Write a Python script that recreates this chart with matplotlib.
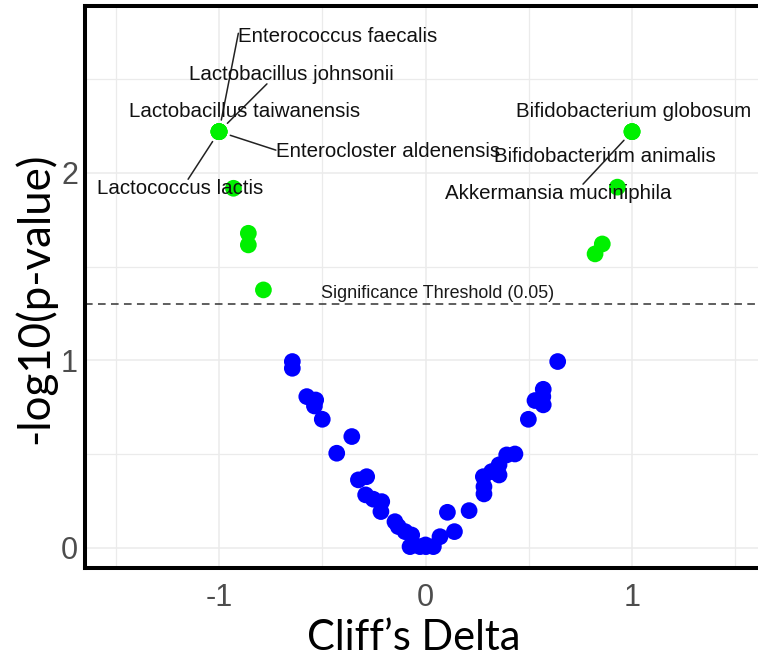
import matplotlib
matplotlib.use("Agg")
import matplotlib.pyplot as plt

# ---------------- data ----------------
# labelled significant taxa
sig_species = ["Enterococcus faecalis", "Lactobacillus johnsonii",
               "Lactobacillus taiwanensis", "Enterocloster aldenensis",
               "Lactococcus lactis", "Bifidobacterium globosum",
               "Bifidobacterium animalis", "Akkermansia muciniphila"]
sig_delta = [-1.0, -1.0, -1.0, -1.0, -1.0, 1.0, 1.0, 1.0]
sig_nlp = [2.22, 2.22, 2.22, 2.22, 2.22, 2.22, 2.22, 2.22]

# other significant (unlabelled) taxa
sig2_delta = [-0.93, -0.858, -0.858, -0.785, 0.929, 0.856, 0.821]
sig2_nlp = [1.918, 1.678, 1.616, 1.376, 1.924, 1.621, 1.568]

# non-significant taxa
ns_delta = [-0.645, -0.645, -0.575, -0.532, -0.538, -0.50, -0.357, -0.43,
            -0.325, -0.285, -0.29, -0.253, -0.212, -0.216, -0.148, -0.132,
            -0.099, -0.067, -0.075, -0.027, 0.002, 0.0, 0.038, 0.07, 0.106,
            0.14, 0.211, 0.283, 0.283, 0.28, 0.32, 0.356, 0.356, 0.393,
            0.433, 0.498, 0.53, 0.57, 0.57, 0.568, 0.64]
ns_nlp = [0.994, 0.958, 0.807, 0.789, 0.757, 0.686, 0.594, 0.505,
          0.363, 0.38, 0.283, 0.26, 0.247, 0.194, 0.14, 0.114,
          0.087, 0.069, 0.007, 0.007, 0.007, 0.016, 0.007, 0.06, 0.19,
          0.087, 0.199, 0.288, 0.327, 0.38, 0.407, 0.389, 0.443, 0.496,
          0.501, 0.686, 0.786, 0.763, 0.846, 0.807, 0.994]

threshold_p = 0.05
threshold_nlp = 1.30103  # -log10(0.05)

x_major = [-1, 0, 1]
x_minor = [-1.5, -0.5, 0.5, 1.5]
y_major = [0, 1, 2]
y_minor = [0.5, 1.5, 2.5]

# ---------------- layout / styling ----------------
# label positions (x center, baseline y) and segment attach point on label
label_layout = {
    "Enterococcus faecalis":     ((-0.424, 2.70), (0.0, 0.65)),
    "Lactobacillus johnsonii":   ((-0.649, 2.496), (0.38, 0.0)),
    "Lactobacillus taiwanensis": ((-0.874, 2.297), None),
    "Enterocloster aldenensis":  ((-0.182, 2.087), (0.0, 0.55)),
    "Lactococcus lactis":        ((-1.186, 1.886), (0.545, 1.0)),
    "Bifidobacterium globosum":  ((1.01, 2.30), None),
    "Bifidobacterium animalis":  ((0.869, 2.06), None),
    "Akkermansia muciniphila":   ((0.642, 1.86), (0.61, 1.0)),
}

W, H = 758, 662
fig = plt.figure(figsize=(W / 100, H / 100), dpi=100)
ax = fig.add_axes([85 / W, 94 / H, 1 - 85 / W, (568 - 6) / H])
ax.set_facecolor("white")

ax.set_xlim(-1.649, 1.61)
ax.set_ylim(-0.107, 2.89)

ax.set_xticks(x_major)
ax.set_xticks(x_minor, minor=True)
ax.set_yticks(y_major)
ax.set_yticks(y_minor, minor=True)
ax.set_xticklabels([str(v) for v in x_major])
ax.set_yticklabels([str(v) for v in y_major])
ax.grid(which="major", color="#ebebeb", lw=1.1, zorder=0)
ax.grid(which="minor", color="#ebebeb", lw=0.9, zorder=0)
ax.set_axisbelow(True)
ax.tick_params(which="both", length=0)
ax.tick_params(axis="x", pad=11, labelsize=22, labelcolor="#4d4d4d")
ax.tick_params(axis="y", pad=5, labelsize=22, labelcolor="#4d4d4d")
for lab in ax.get_xticklabels() + ax.get_yticklabels():
    lab.set_fontfamily("Liberation Sans")

for s in ["top", "left", "bottom"]:
    ax.spines[s].set_linewidth(2.9)
    ax.spines[s].set_color("black")
ax.spines["right"].set_visible(False)

msize = 145
ax.scatter(ns_delta, ns_nlp, s=msize, color="#0000ff", edgecolors="none", zorder=3)
ax.scatter(sig2_delta, sig2_nlp, s=msize, color="#00f000", edgecolors="none", zorder=3)
ax.scatter(sig_delta, sig_nlp, s=msize, color="#00f000", edgecolors="none", zorder=3)

ax.axhline(threshold_nlp, color="#333333", lw=1.1, ls=(0, (5, 3.5)), zorder=2)
ax.text(0.06, 1.335, "Significance Threshold (%.2f)" % threshold_p,
        ha="center", va="baseline", fontsize=12.9, color="#1a1a1a",
        family="Liberation Sans", zorder=5)

for name, d, p in zip(sig_species, sig_delta, sig_nlp):
    (lx, ly), rp = label_layout[name]
    if rp is None:
        ax.text(lx, ly, name, ha="center", va="baseline", fontsize=14.8,
                color="#111111", family="Liberation Sans", zorder=6)
    else:
        ax.annotate(name, xy=(d, p), xytext=(lx, ly), textcoords="data",
                    ha="center", va="baseline", fontsize=14.8,
                    color="#111111", family="Liberation Sans", zorder=6,
                    arrowprops=dict(arrowstyle="-", color="#222222", lw=1.1,
                                    shrinkA=0, shrinkB=8.5, patchA=None,
                                    relpos=rp))

fig.text(414 / W, 1 - 650 / H, "Cliff\u2019s Delta", ha="center",
         va="baseline", fontsize=30, family="Lato", color="black")
fig.text(35 / W, 1 - 298 / H, "-log10(p-value)", ha="center", va="center",
         rotation=90, fontsize=31.5, family="Lato", color="black")

fig.savefig("out.png", dpi=100, facecolor="white")
